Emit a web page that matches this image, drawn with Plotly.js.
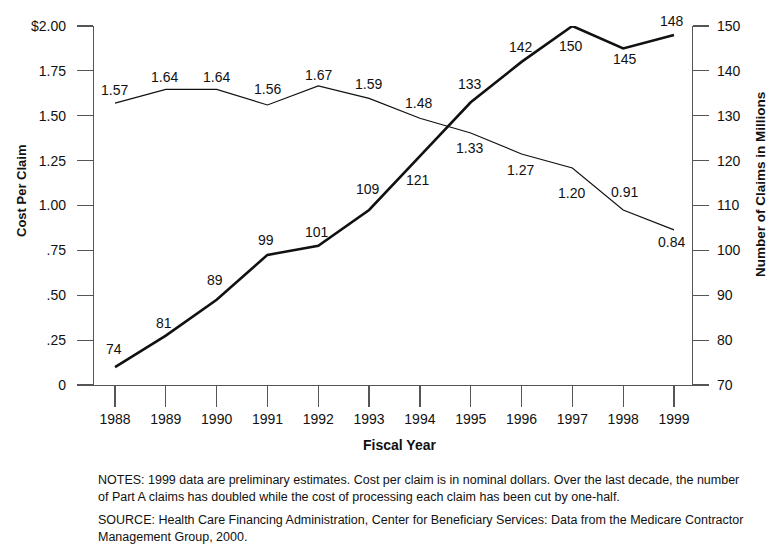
<!DOCTYPE html>
<html>
<head>
<meta charset="utf-8">
<script src="https://cdn.plot.ly/plotly-3.0.1.min.js"></script>
<style>html,body{margin:0;padding:0;background:#fff;}#chart{width:776px;height:544px;}</style>
</head>
<body>
<div id="chart"></div>
<script>
// ---- data ----
const years = [1988, 1989, 1990, 1991, 1992, 1993, 1994, 1995, 1996, 1997, 1998, 1999];
// cost per claim as drawn (line position)
const costValues = [1.57, 1.647, 1.647, 1.56, 1.666, 1.597, 1.486, 1.404, 1.287, 1.209, 0.975, 0.864];
// cost per claim as printed
const costLabels = ["1.57", "1.64", "1.64", "1.56", "1.67", "1.59", "1.48", "1.33", "1.27", "1.20", "0.91", "0.84"];
// number of claims in millions
const claimValues = [74, 81, 89, 99, 101, 109, 121, 133, 142, 150, 145, 148];
const claimLabels = ["74", "81", "89", "99", "101", "109", "121", "133", "142", "150", "145", "148"];
const costTickVals = [0, 0.25, 0.5, 0.75, 1.0, 1.25, 1.5, 1.75, 2.0];
const costTickText = ["0", ".25", ".50", ".75", "1.00", "1.25", "1.50", "1.75", "$2.00"];
const claimTickVals = [70, 80, 90, 100, 110, 120, 130, 140, 150];

// ---- label placement (pixel offsets, styling only) ----
const costShift = [[-1, 13], [-1, 12], [0, 12.6], [0, 16], [0, 11], [-1, 14], [-1, 15], [-1, -15], [-1, -16], [-1, -25], [1, 18], [-2, -12]];
const claimShift = [[-1, 18], [-2, 13], [-2, 20], [-1, 15], [-1, 14], [-1, 21], [-2, -24], [-1, 18], [-1, 15], [-1, -20], [2, -11], [-2, 14]];

const FONT = "Liberation Sans, Arial, Helvetica, sans-serif";
const TXT = "#111";
const AX = "#555";

// plot area in pixels
const L = 94, R = 692, T = 26, B = 385;
const px = x => (x - L) / (R - L);
const py = y => (B - y) / (B - T);

const traces = [
  {x: years, y: costValues, type: "scatter", mode: "lines", line: {color: "#111", width: 1.2}, yaxis: "y", hoverinfo: "skip"},
  {x: years, y: claimValues, type: "scatter", mode: "lines", line: {color: "#111", width: 2.6}, yaxis: "y2", hoverinfo: "skip"}
];

const ann = [];
years.forEach((yr, i) => {
  ann.push({x: yr, y: costValues[i], xref: "x", yref: "y", text: costLabels[i], showarrow: false,
    xshift: costShift[i][0], yshift: costShift[i][1], font: {family: FONT, size: 14, color: TXT}});
  ann.push({x: yr, y: claimValues[i], xref: "x", yref: "y2", text: claimLabels[i], showarrow: false,
    xshift: claimShift[i][0], yshift: claimShift[i][1], font: {family: FONT, size: 14, color: TXT}});
});

ann.push({x: px(21), y: py(191), xref: "paper", yref: "paper", text: "<b>Cost Per Claim</b>", textangle: -90,
  showarrow: false, xanchor: "center", yanchor: "middle", font: {family: FONT, size: 13, color: TXT}});
ann.push({x: px(760), y: py(185), xref: "paper", yref: "paper", text: "<b>Number of Claims in Millions</b>", textangle: -90,
  showarrow: false, xanchor: "center", yanchor: "middle", font: {family: FONT, size: 13.5, color: TXT}});
ann.push({x: px(399), y: py(445), xref: "paper", yref: "paper", text: "<b>Fiscal Year</b>",
  showarrow: false, xanchor: "center", yanchor: "middle", font: {family: FONT, size: 14, color: TXT}});

const notes = [
  ["NOTES: 1999 data are preliminary estimates. Cost per claim is in nominal dollars. Over the last decade, the number", 480],
  ["of Part A claims has doubled while the cost of processing each claim has been cut by one-half.", 497],
  ["SOURCE: Health Care Financing Administration, Center for Beneficiary Services: Data from the Medicare Contractor", 520],
  ["Management Group, 2000.", 537]
];
notes.forEach(n => ann.push({x: px(96), y: py(n[1]), xref: "paper", yref: "paper", text: n[0], showarrow: false,
  xanchor: "left", yanchor: "middle", font: {family: FONT, size: 12.5, color: TXT}}));

const layout = {
  width: 776, height: 544,
  margin: {l: L, r: 776 - R, t: T, b: 544 - B, pad: 0},
  paper_bgcolor: "#fff", plot_bgcolor: "#fff",
  showlegend: false,
  font: {family: FONT, size: 14, color: TXT},
  xaxis: {range: [1988 - 21 / 50.8, 1999 + 18 / 50.8], tickvals: years, ticktext: years.map(String),
    showline: true, linecolor: AX, linewidth: 1.2, ticks: "outside", ticklen: 21, tickcolor: AX, tickwidth: 1.2,
    showgrid: false, zeroline: false, tickfont: {family: FONT, size: 14, color: TXT}, ticklabelstandoff: 0},
  yaxis: {range: [0, 2], tickvals: costTickVals, ticktext: costTickText, showline: true, linecolor: AX, linewidth: 1.2,
    ticks: "outside", ticklen: 16, tickcolor: AX, tickwidth: 1.2, showgrid: false, zeroline: false,
    tickfont: {family: FONT, size: 14, color: TXT}, ticklabelstandoff: 8},
  yaxis2: {range: [70, 150], tickvals: claimTickVals, overlaying: "y", side: "right", showline: true, linecolor: AX, linewidth: 1.2,
    ticks: "outside", ticklen: 16, tickcolor: AX, tickwidth: 1.2, showgrid: false, zeroline: false,
    tickfont: {family: FONT, size: 14, color: TXT}, ticklabelstandoff: 5},
  annotations: ann
};

Plotly.newPlot("chart", traces, layout, {staticPlot: true, displayModeBar: false});
</script>
</body>
</html>
